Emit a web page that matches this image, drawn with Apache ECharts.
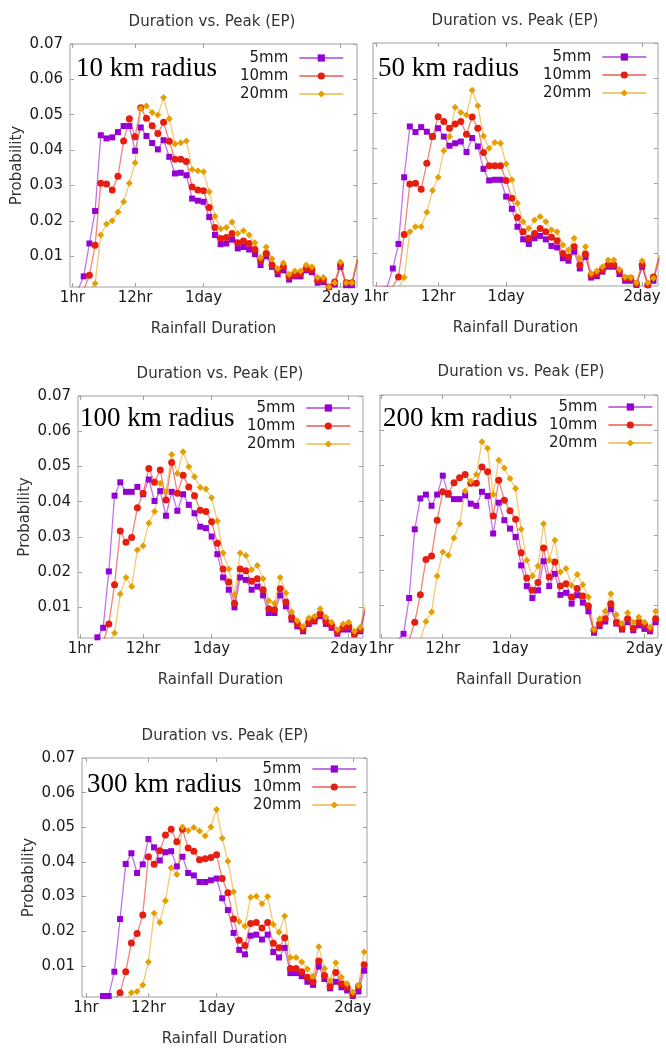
<!DOCTYPE html>
<html>
<head>
<meta charset="utf-8">
<script src="https://cdn.jsdelivr.net/npm/echarts@6/dist/echarts.min.js"></script>
<style>
  html, body { margin: 0; padding: 0; background: #fff; }
  #main { width: 666px; height: 1048px; }
</style>
</head>
<body>
<div id="main"></div>
<script>
// rainfall duration in hours, one point per hour
const hours = [1, 2, 3, 4, 5, 6, 7, 8, 9, 10, 11, 12, 13, 14, 15, 16, 17, 18, 19, 20,
  21, 22, 23, 24, 25, 26, 27, 28, 29, 30, 31, 32, 33, 34, 35, 36, 37, 38, 39, 40,
  41, 42, 43, 44, 45, 46, 47, 48, 49, 50, 51];
const xTickValues = [1, 12, 24, 48];
const xTickLabels = ['1hr', '12hr', '1day', '2day'];
const yTickValues = [0.01, 0.02, 0.03, 0.04, 0.05, 0.06, 0.07];
const seriesNames = ['5mm', '10mm', '20mm'];
const radiusLabels = ['10 km radius', '50 km radius', '100 km radius', '200 km radius', '300 km radius'];

// 10 km
const r10_5mm = [0.0003, 0.0005, 0.0043, 0.0136, 0.0228, 0.0442, 0.0433, 0.0436, 0.0451, 0.0468,
  0.0468, 0.0398, 0.0464, 0.0440, 0.0420, 0.0402, 0.0428, 0.0381, 0.0334, 0.0336,
  0.0329, 0.0263, 0.0257, 0.0254, 0.0211, 0.0160, 0.0134, 0.0136, 0.0147, 0.0122,
  0.0126, 0.0119, 0.0106, 0.0075, 0.0100, 0.0070, 0.0049, 0.0060, 0.0034, 0.0043,
  0.0043, 0.0060, 0.0055, 0.0025, 0.0027, 0.0013, 0.0020, 0.0070, 0.0018, 0.0018, 0.0088];
const r10_10mm = [0.0003, 0.0003, 0.0005, 0.0046, 0.0131, 0.0306, 0.0304, 0.0287, 0.0326, 0.0426,
  0.0489, 0.0438, 0.0520, 0.0490, 0.0469, 0.0447, 0.0479, 0.0425, 0.0374, 0.0374,
  0.0368, 0.0296, 0.0287, 0.0285, 0.0238, 0.0181, 0.0150, 0.0153, 0.0164, 0.0138,
  0.0143, 0.0136, 0.0119, 0.0087, 0.0108, 0.0075, 0.0058, 0.0070, 0.0042, 0.0049,
  0.0051, 0.0065, 0.0062, 0.0032, 0.0034, 0.0013, 0.0027, 0.0075, 0.0025, 0.0025, 0.0092];
const r10_20mm = [0, 0, 0, 0, 0.0023, 0.0160, 0.0191, 0.0200, 0.0225, 0.0254,
  0.0306, 0.0364, 0.0518, 0.0525, 0.0506, 0.0499, 0.0549, 0.0489, 0.0417, 0.0421,
  0.0426, 0.0345, 0.0342, 0.0339, 0.0282, 0.0213, 0.0178, 0.0181, 0.0197, 0.0164,
  0.0172, 0.0160, 0.0138, 0.0096, 0.0126, 0.0093, 0.0065, 0.0081, 0.0049, 0.0058,
  0.0058, 0.0075, 0.0070, 0.0040, 0.0040, 0.0013, 0.0025, 0.0084, 0.0025, 0.0025, 0.0098];

// 50 km
const r50_5mm = [0.0003, 0.0003, 0.0005, 0.0057, 0.0127, 0.0317, 0.0462, 0.0446, 0.0460, 0.0447,
  0.0433, 0.0457, 0.0433, 0.0407, 0.0414, 0.0419, 0.0389, 0.0429, 0.0405, 0.0341,
  0.0308, 0.0310, 0.0310, 0.0262, 0.0227, 0.0176, 0.0140, 0.0127, 0.0143, 0.0150,
  0.0140, 0.0121, 0.0117, 0.0086, 0.0079, 0.0105, 0.0057, 0.0090, 0.0031, 0.0035,
  0.0048, 0.0062, 0.0062, 0.0041, 0.0022, 0.0022, 0.0010, 0.0062, 0.0010, 0.0022, 0.0085];
const r50_10mm = [0.0003, 0.0003, 0.0003, 0.0005, 0.0033, 0.0154, 0.0298, 0.0300, 0.0283, 0.0357,
  0.0433, 0.0490, 0.0476, 0.0457, 0.0469, 0.0476, 0.0440, 0.0489, 0.0457, 0.0388,
  0.0350, 0.0350, 0.0350, 0.0308, 0.0257, 0.0202, 0.0162, 0.0143, 0.0157, 0.0171,
  0.0162, 0.0146, 0.0136, 0.0100, 0.0090, 0.0119, 0.0067, 0.0098, 0.0038, 0.0043,
  0.0054, 0.0067, 0.0067, 0.0050, 0.0029, 0.0029, 0.0014, 0.0067, 0.0010, 0.0033, 0.0090];
const r50_20mm = [0, 0, 0, 0, 0, 0.0031, 0.0162, 0.0176, 0.0176, 0.0217,
  0.0279, 0.0317, 0.0393, 0.0433, 0.0517, 0.0502, 0.0495, 0.0565, 0.0521, 0.0435,
  0.0400, 0.0416, 0.0414, 0.0355, 0.0310, 0.0243, 0.0190, 0.0171, 0.0195, 0.0205,
  0.0190, 0.0167, 0.0162, 0.0124, 0.0110, 0.0143, 0.0086, 0.0119, 0.0043, 0.0050,
  0.0062, 0.0081, 0.0081, 0.0054, 0.0033, 0.0031, 0.0016, 0.0079, 0.0016, 0.0029, 0.0095];

// 100 km
const r100_5mm = [0.0003, 0.0003, 0.0003, 0.0015, 0.0042, 0.0202, 0.0417, 0.0455, 0.0428, 0.0428,
  0.0442, 0.0421, 0.0463, 0.0402, 0.0430, 0.0360, 0.0428, 0.0374, 0.0421, 0.0391,
  0.0367, 0.0329, 0.0325, 0.0301, 0.0251, 0.0185, 0.0150, 0.0100, 0.0185, 0.0178,
  0.0150, 0.0159, 0.0134, 0.0084, 0.0084, 0.0134, 0.0103, 0.0065, 0.0046, 0.0032,
  0.0053, 0.0060, 0.0075, 0.0053, 0.0042, 0.0025, 0.0037, 0.0037, 0.0023, 0.0032, 0.0100];
const r100_10mm = [0, 0, 0, 0, 0, 0.0053, 0.0164, 0.0317, 0.0285, 0.0298,
  0.0383, 0.0424, 0.0494, 0.0455, 0.0490, 0.0405, 0.0511, 0.0424, 0.0475, 0.0442,
  0.0417, 0.0376, 0.0372, 0.0343, 0.0282, 0.0209, 0.0172, 0.0112, 0.0209, 0.0204,
  0.0174, 0.0181, 0.0150, 0.0096, 0.0093, 0.0153, 0.0115, 0.0072, 0.0053, 0.0037,
  0.0058, 0.0065, 0.0081, 0.0060, 0.0049, 0.0030, 0.0043, 0.0046, 0.0025, 0.0037, 0.0105];
const r100_20mm = [0, 0, 0, 0, 0, 0, 0.0027, 0.0138, 0.0185, 0.0159,
  0.0263, 0.0275, 0.0339, 0.0372, 0.0452, 0.0428, 0.0534, 0.0480, 0.0542, 0.0499,
  0.0471, 0.0440, 0.0436, 0.0411, 0.0345, 0.0254, 0.0209, 0.0136, 0.0254, 0.0247,
  0.0207, 0.0219, 0.0181, 0.0119, 0.0112, 0.0185, 0.0141, 0.0087, 0.0062, 0.0046,
  0.0070, 0.0075, 0.0096, 0.0072, 0.0058, 0.0037, 0.0053, 0.0058, 0.0032, 0.0043, 0.0115];

// 200 km
const r200_5mm = [0, 0, 0, 0, 0.0019, 0.0121, 0.0317, 0.0405, 0.0416, 0.0384,
  0.0416, 0.0470, 0.0416, 0.0403, 0.0403, 0.0414, 0.0390, 0.0384, 0.0424, 0.0412,
  0.0305, 0.0393, 0.0343, 0.0319, 0.0295, 0.0214, 0.0155, 0.0121, 0.0143, 0.0226,
  0.0155, 0.0190, 0.0130, 0.0136, 0.0105, 0.0129, 0.0108, 0.0083, 0.0022, 0.0041,
  0.0054, 0.0089, 0.0048, 0.0031, 0.0052, 0.0029, 0.0043, 0.0033, 0.0026, 0.0052, null];
const r200_10mm = [0, 0, 0, 0, 0, 0, 0.0052, 0.0130, 0.0231, 0.0241,
  0.0343, 0.0424, 0.0419, 0.0450, 0.0464, 0.0473, 0.0448, 0.0448, 0.0495, 0.0481,
  0.0355, 0.0457, 0.0400, 0.0370, 0.0346, 0.0250, 0.0178, 0.0143, 0.0165, 0.0264,
  0.0181, 0.0224, 0.0155, 0.0162, 0.0124, 0.0148, 0.0127, 0.0098, 0.0029, 0.0048,
  0.0062, 0.0105, 0.0052, 0.0035, 0.0062, 0.0035, 0.0052, 0.0045, 0.0033, 0.0062, null];
const r200_20mm = [0, 0, 0, 0, 0, 0, 0, 0, 0.0054, 0.0081,
  0.0184, 0.0252, 0.0243, 0.0292, 0.0333, 0.0426, 0.0454, 0.0473, 0.0567, 0.0548,
  0.0416, 0.0514, 0.0492, 0.0462, 0.0433, 0.0317, 0.0229, 0.0184, 0.0212, 0.0333,
  0.0229, 0.0286, 0.0195, 0.0205, 0.0157, 0.0188, 0.0159, 0.0124, 0.0031, 0.0062,
  0.0083, 0.0133, 0.0073, 0.0048, 0.0079, 0.0052, 0.0067, 0.0052, 0.0038, 0.0083, null];

// 300 km
const r300_5mm = [0, 0, 0, 0.0013, 0.0013, 0.0083, 0.0235, 0.0394, 0.0425, 0.0368,
  0.0393, 0.0466, 0.0442, 0.0404, 0.0428, 0.0431, 0.0387, 0.0415, 0.0368, 0.0361,
  0.0342, 0.0342, 0.0347, 0.0352, 0.0295, 0.0261, 0.0195, 0.0146, 0.0133, 0.0187,
  0.0190, 0.0176, 0.0190, 0.0140, 0.0124, 0.0152, 0.0079, 0.0079, 0.0070, 0.0054,
  0.0045, 0.0098, 0.0062, 0.0035, 0.0054, 0.0038, 0.0029, 0.0013, 0.0026, 0.0086, null];
const r300_10mm = [0, 0, 0, 0, 0, 0, 0.0022, 0.0083, 0.0166, 0.0193,
  0.0247, 0.0415, 0.0393, 0.0432, 0.0478, 0.0494, 0.0458, 0.0494, 0.0440, 0.0431,
  0.0406, 0.0409, 0.0413, 0.0421, 0.0352, 0.0311, 0.0235, 0.0174, 0.0159, 0.0222,
  0.0225, 0.0209, 0.0225, 0.0165, 0.0152, 0.0181, 0.0092, 0.0092, 0.0083, 0.0067,
  0.0054, 0.0114, 0.0072, 0.0041, 0.0081, 0.0048, 0.0038, 0.0019, 0.0041, 0.0103, null];
const r300_20mm = [0, 0, 0, 0, 0, 0, 0, 0, 0.0022, 0.0026,
  0.0045, 0.0111, 0.0252, 0.0225, 0.0288, 0.0383, 0.0364, 0.0501, 0.0491, 0.0499,
  0.0489, 0.0475, 0.0501, 0.0551, 0.0468, 0.0402, 0.0314, 0.0228, 0.0214, 0.0298,
  0.0301, 0.0279, 0.0300, 0.0219, 0.0197, 0.0244, 0.0124, 0.0124, 0.0111, 0.0091,
  0.0070, 0.0155, 0.0092, 0.0057, 0.0109, 0.0067, 0.0048, 0.0024, 0.0043, 0.0140, null];

const panelData = [
  [r10_5mm, r10_10mm, r10_20mm],
  [r50_5mm, r50_10mm, r50_20mm],
  [r100_5mm, r100_10mm, r100_20mm],
  [r200_5mm, r200_10mm, r200_20mm],
  [r300_5mm, r300_10mm, r300_20mm]
];

// layout of the five panels (px)
const panels = [
  { left: 70, top: 44, width: 287, height: 243, xMin: 0.6, xMax: 50.9, yMin: 0.0013, yLabels: true,
    titleX: 212, titleY: 22, noteX: 76, noteY: 69, legendX: 296, legendY: 58 },
  { left: 373, top: 43, width: 285, height: 243, xMin: 0.5, xMax: 50.8, yMin: 0.0007, yLabels: false,
    titleX: 515, titleY: 21, noteX: 378, noteY: 69, legendX: 599, legendY: 57 },
  { left: 78, top: 396, width: 285, height: 242, xMin: 0.6, xMax: 50.5, yMin: 0.0013, yLabels: true,
    titleX: 220, titleY: 374, noteX: 80, noteY: 419, legendX: 303, legendY: 408 },
  { left: 380, top: 395, width: 283, height: 243, xMin: 0.8, xMax: 50.4, yMin: 0.0007, yLabels: false,
    titleX: 521, titleY: 372, noteX: 383, noteY: 419, legendX: 605, legendY: 407 },
  { left: 82, top: 758, width: 285, height: 242, xMin: 0.3, xMax: 50.5, yMin: 0.001, yLabels: true,
    titleX: 225, titleY: 736, noteX: 87, noteY: 785, legendX: 309, legendY: 769 }
];

const styles = [
  { color: '#9400d3', symbol: 'rect', size: 6 },
  { color: '#e51e10', symbol: 'circle', size: 7 },
  { color: '#e69f00', symbol: 'diamond', size: 7 }
];

const borderColor = '#a0a0a0';
const font = 'DejaVu Sans';

const option = {
  animation: false,
  backgroundColor: '#fff',
  grid: [], xAxis: [], yAxis: [], series: [], legend: [], graphic: []
};

panels.forEach((p, i) => {
  option.grid.push({
    left: p.left, top: p.top, width: p.width, height: p.height,
    show: true, borderColor: borderColor, borderWidth: 1, backgroundColor: 'transparent'
  });

  const tickStyle = { show: true, inside: true, length: 4, lineStyle: { color: borderColor } };

  option.xAxis.push({
    type: 'value', gridIndex: i, min: p.xMin, max: p.xMax,
    name: 'Rainfall Duration', nameLocation: 'middle', nameGap: 35,
    nameTextStyle: { fontFamily: font, fontSize: 15, color: '#333' },
    axisLine: { show: false },
    axisTick: Object.assign({ customValues: xTickValues }, tickStyle),
    axisLabel: {
      customValues: xTickValues, margin: 4, fontFamily: font, fontSize: 15, color: '#1a1a1a',
      formatter: v => xTickLabels[xTickValues.indexOf(v)]
    },
    splitLine: { show: false }
  });
  option.xAxis.push({
    type: 'value', gridIndex: i, position: 'top', min: p.xMin, max: p.xMax,
    axisLine: { show: false },
    axisTick: Object.assign({ customValues: xTickValues }, tickStyle),
    axisLabel: { show: false }, splitLine: { show: false }
  });

  option.yAxis.push({
    type: 'value', gridIndex: i, min: p.yMin, max: 0.07,
    name: p.yLabels ? 'Probability' : '', nameLocation: 'middle', nameGap: 45, nameRotate: 90,
    nameTextStyle: { fontFamily: font, fontSize: 15, color: '#333' },
    axisLine: { show: false },
    axisTick: Object.assign({ customValues: yTickValues }, tickStyle),
    axisLabel: {
      show: p.yLabels, customValues: yTickValues, margin: 7,
      fontFamily: font, fontSize: 15, color: '#1a1a1a',
      formatter: v => v.toFixed(2)
    },
    splitLine: { show: false }
  });
  option.yAxis.push({
    type: 'value', gridIndex: i, position: 'right', min: p.yMin, max: 0.07,
    axisLine: { show: false },
    axisTick: Object.assign({ customValues: yTickValues }, tickStyle),
    axisLabel: { show: false }, splitLine: { show: false }
  });

  panelData[i].forEach((vals, k) => {
    const s = styles[k];
    option.series.push({
      name: seriesNames[k], type: 'line',
      xAxisIndex: i * 2, yAxisIndex: i * 2,
      data: hours.map((h, j) => [h, vals[j]]),
      symbol: s.symbol, symbolSize: s.size, showAllSymbol: true,
      clip: true,
      itemStyle: { color: s.color },
      lineStyle: { color: s.color, width: 1.3, opacity: 0.55 },
      emphasis: { disabled: true }
    });
  });

  option.legend.push({
    orient: 'vertical', align: 'right', padding: 0,
    left: p.legendX - 56, top: p.legendY - 9,
    itemWidth: 44, itemHeight: 9, itemGap: 0,
    data: seriesNames,
    textStyle: {
      fontFamily: font, fontSize: 15, color: '#1a1a1a', lineHeight: 18,
      width: 45, align: 'right', padding: [0, 6, 0, 0]
    },
    selectedMode: false
  });

  option.graphic.push({
    type: 'text', x: p.titleX, y: p.titleY,
    style: { text: 'Duration vs. Peak (EP)', fontFamily: font, fontSize: 15, fill: '#333',
      align: 'center', verticalAlign: 'middle' }
  });
  option.graphic.push({
    type: 'text', x: p.noteX, y: p.noteY,
    style: { text: radiusLabels[i], fontFamily: 'Liberation Serif', fontSize: 27, fill: '#000',
      align: 'left', verticalAlign: 'middle' }
  });
});

const myChart = echarts.init(document.getElementById('main'), null, { renderer: 'canvas' });
myChart.setOption(option);
</script>
</body>
</html>
